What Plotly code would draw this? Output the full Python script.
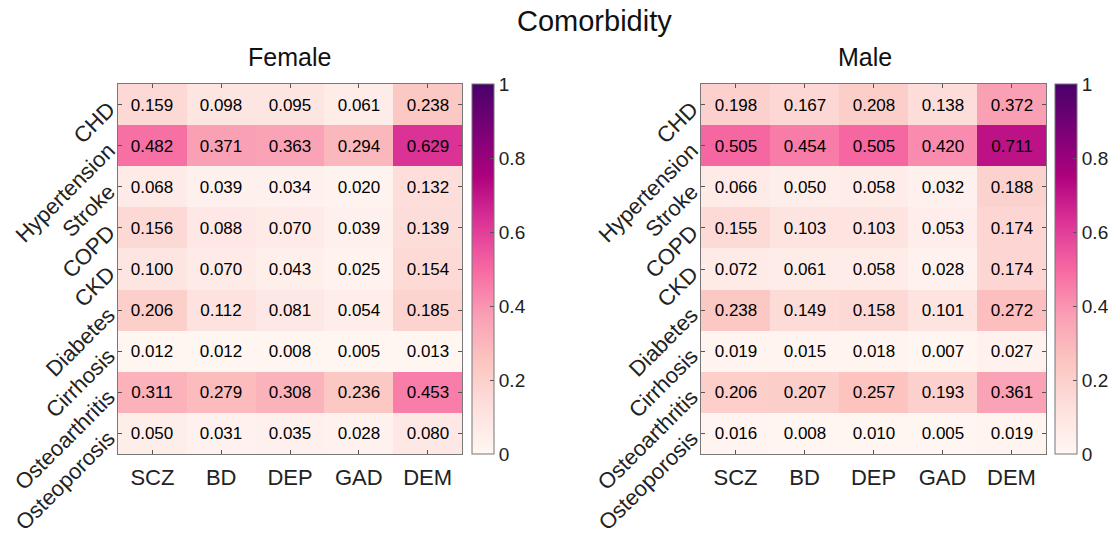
import plotly.graph_objects as go

conditions = ["CHD", "Hypertension", "Stroke", "COPD", "CKD", "Diabetes", "Cirrhosis", "Osteoarthritis", "Osteoporosis"]
disorders = ["SCZ", "BD", "DEP", "GAD", "DEM"]

female = [
    [0.159, 0.098, 0.095, 0.061, 0.238],
    [0.482, 0.371, 0.363, 0.294, 0.629],
    [0.068, 0.039, 0.034, 0.020, 0.132],
    [0.156, 0.088, 0.070, 0.039, 0.139],
    [0.100, 0.070, 0.043, 0.025, 0.154],
    [0.206, 0.112, 0.081, 0.054, 0.185],
    [0.012, 0.012, 0.008, 0.005, 0.013],
    [0.311, 0.279, 0.308, 0.236, 0.453],
    [0.050, 0.031, 0.035, 0.028, 0.080],
]
male = [
    [0.198, 0.167, 0.208, 0.138, 0.372],
    [0.505, 0.454, 0.505, 0.420, 0.711],
    [0.066, 0.050, 0.058, 0.032, 0.188],
    [0.155, 0.103, 0.103, 0.053, 0.174],
    [0.072, 0.061, 0.058, 0.028, 0.174],
    [0.238, 0.149, 0.158, 0.101, 0.272],
    [0.019, 0.015, 0.018, 0.007, 0.027],
    [0.206, 0.207, 0.257, 0.193, 0.361],
    [0.016, 0.008, 0.010, 0.005, 0.019],
]
cbar_ticks = [0, 0.2, 0.4, 0.6, 0.8, 1]
cbar_labels = ["0", "0.2", "0.4", "0.6", "0.8", "1"]

W, H = 1117, 537
FONT = "Liberation Sans, Arial, Helvetica, sans-serif"

x1 = [118.0 / W, 462.0 / W]
x2 = [701.0 / W, 1046.0 / W]
ydom = [1 - 454.0 / H, 1 - 84.0 / H]

fig = go.Figure()

def add_hm(z, xa, ya, cbx):
    fig.add_trace(go.Heatmap(
        z=z, x=disorders, y=conditions, xaxis=xa, yaxis=ya,
        colorscale="RdPu", zmin=0, zmax=1,
        texttemplate="%{z:.3f}", textfont=dict(size=17, color="black", family=FONT),
        xgap=0, ygap=0,
        colorbar=dict(
            x=cbx, xanchor="left", y=ydom[0], yanchor="bottom",
            len=ydom[1] - ydom[0], lenmode="fraction",
            thickness=22, xpad=0, ypad=0,
            outlinecolor="#777777", outlinewidth=1,
            tickvals=cbar_ticks, ticktext=cbar_labels,
            ticks="inside", ticklen=4, tickcolor="#555555",
            tickfont=dict(size=19, family=FONT, color="#222222"),
        ),
        showscale=True,
    ))

add_hm(female, "x", "y", 472.0 / W)
add_hm(male, "x2", "y2", 1055.0 / W)

axis_common = dict(
    showline=True, linecolor="#777777", linewidth=1, mirror="ticks",
    ticks="inside", ticklen=4, tickcolor="#555555", showgrid=False, zeroline=False,
    automargin=False,
)
xax = dict(tickfont=dict(size=22), ticklabelstandoff=4, **axis_common)
yax = dict(autorange="reversed", tickangle=-45, tickfont=dict(size=22),
           ticklabelstandoff=4, ticklabelshift=-2, **axis_common)
fig.update_layout(
    width=W, height=H,
    margin=dict(l=0, r=0, t=0, b=0, autoexpand=False),
    paper_bgcolor="white", plot_bgcolor="white",
    font=dict(family=FONT, color="#222222"),
    xaxis=dict(domain=x1, anchor="y", **xax),
    yaxis=dict(domain=ydom, anchor="x", **yax),
    xaxis2=dict(domain=x2, anchor="y2", **xax),
    yaxis2=dict(domain=ydom, anchor="x2", **yax),
    annotations=[
        dict(text="Comorbidity", x=594.0 / W, y=1 - 21.0 / H, xref="paper", yref="paper",
             showarrow=False, font=dict(size=29, family=FONT, color="#111111"),
             xanchor="center", yanchor="middle"),
        dict(text="Female", x=289.0 / W, y=1 - 57.0 / H, xref="paper", yref="paper",
             showarrow=False, font=dict(size=25, family=FONT, color="#111111"),
             xanchor="center", yanchor="middle"),
        dict(text="Male", x=865.0 / W, y=1 - 57.0 / H, xref="paper", yref="paper",
             showarrow=False, font=dict(size=25, family=FONT, color="#111111"),
             xanchor="center", yanchor="middle"),
    ],
)

fig.write_html("out.html")
